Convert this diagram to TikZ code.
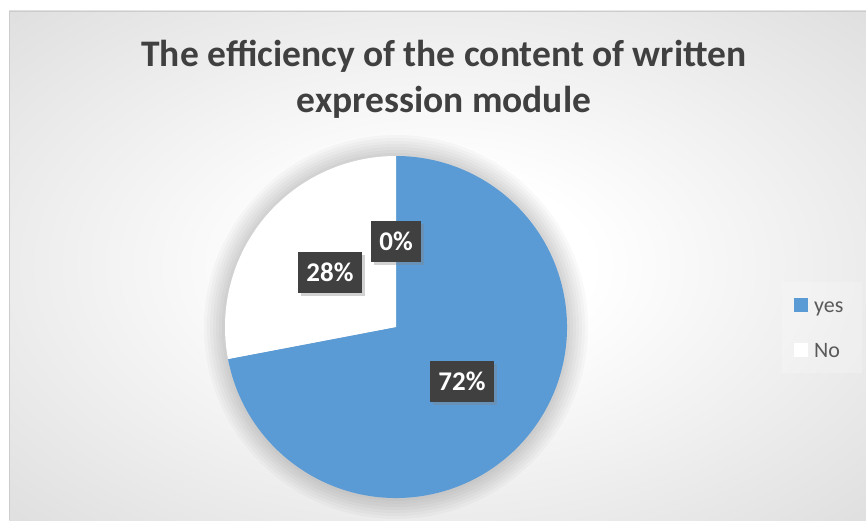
\documentclass[tikz,border=0pt]{standalone}
\usepackage{fontspec}
\setmainfont{Carlito}
\usetikzlibrary{shadows}
\definecolor{yesblue}{HTML}{5B9BD5}
\definecolor{titlegray}{HTML}{404040}
\definecolor{boxgray}{HTML}{404040}
\definecolor{keygray}{HTML}{595959}
\pgfdeclareradialshading{chartbg}{\pgfpoint{0bp}{0bp}}{color(0bp)=(white);color(9bp)=(white);color(62bp)=(black!25);color(80bp)=(black!27)}

\begin{document}
\begin{tikzpicture}[x=1pt,y=1pt,
  pct/.style={fill=boxgray, text=white, font=\fontsize{27}{32}\selectfont\bfseries,
    minimum height=41pt, inner xsep=8.5pt, inner ysep=0pt,
    drop shadow={shadow xshift=3pt, shadow yshift=-3pt, opacity=.35}},
  keybox/.style={minimum size=14pt, inner sep=0pt},
  keytext/.style={text=keygray, font=\fontsize{22}{26}\selectfont, anchor=base west, inner sep=0pt},
  heading/.style={text=titlegray, font=\fontsize{37.5}{46}\selectfont\bfseries, anchor=base, inner sep=0pt}]
\useasboundingbox (0,0) rectangle (866,520);
% chart area
\shade[shading=chartbg] (9,0) rectangle (866,509);
\draw[black!20] (9,0) -- (9,509) -- (866,509);
% title
\node[heading] (title1) at (444,453) {The efficiency of the content of written};
\node[heading] (title2) at (444,407) {expression module};
% pie
\coordinate (ctr) at (396,193);
\foreach \r in {3,6,...,21}
  \fill[black, opacity=.022] (ctr) circle[radius=171+\r];
\fill[yesblue] (ctr) -- ++(190.8:171) arc[start angle=190.8, end angle=450, radius=171] -- cycle;
\fill[white] (ctr) -- ++(90:171) arc[start angle=90, end angle=190.8, radius=171] -- cycle;
% data labels
\node[pct] (lblzero) at (396,279) {0\%};
\node[pct] (lblno) at (330,248) {28\%};
\node[pct] (lblyes) at (462,139) {72\%};
% legend
\fill[white, opacity=.2] (782,147) rectangle (862,238);
\node[keybox, fill=yesblue] (keyyes) at (801,215) {};
\node[keytext] (txtyes) at (814,208) {yes};
\node[keybox, fill=white] (keyno) at (801,170) {};
\node[keytext] (txtno) at (814,163) {No};
\end{tikzpicture}
\end{document}
